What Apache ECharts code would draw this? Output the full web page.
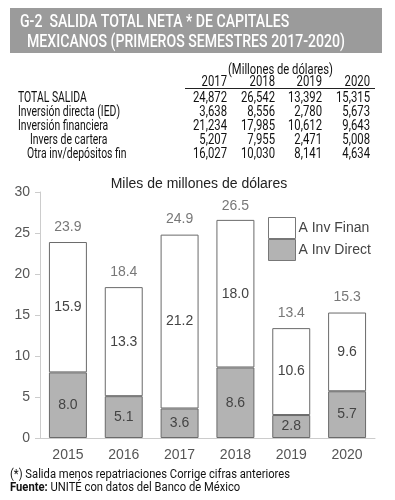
<!DOCTYPE html>
<html><head><meta charset="utf-8">
<script src="https://cdn.jsdelivr.net/npm/echarts@6/dist/echarts.min.js"></script>
<style>html,body{margin:0;padding:0;background:#fff}#c{width:395px;height:500px}</style>
</head><body><div id="c"></div>
<script>
const categories = ['2015','2016','2017','2018','2019','2020'];
const invDirect = [8.0, 5.1, 3.6, 8.6, 2.8, 5.7];
const invFinan = [15.9, 13.3, 21.2, 18.0, 10.6, 9.6];
const totals = [23.9, 18.4, 24.9, 26.5, 13.4, 15.3];
const yTicks = [0, 5, 10, 15, 20, 25, 30];

const tableYears = ['2017','2018','2019','2020'];
const tableRowLabels = ['TOTAL SALIDA','Inversión directa (IED)','Inversión financiera','Invers de cartera','Otra inv/depósitos fin'];
const rowTotal = ['24,872','26,542','13,392','15,315'];
const rowIED = ['3,638','8,556','2,780','5,673'];
const rowFin = ['21,234','17,985','10,612','9,643'];
const rowCartera = ['5,207','7,955','2,471','5,008'];
const rowOtra = ['16,027','10,030','8,141','4,634'];
const tableRows = [rowTotal, rowIED, rowFin, rowCartera, rowOtra];

const FN = 'Roboto, "Liberation Sans", sans-serif';
const cv = document.createElement('canvas').getContext('2d');
function measure(text, font){ cv.font = font; return cv.measureText(text).width; }
function sqText(text, x, y, font, sx, align, fill, extra){
  return {type:'group', x:x, y:y, scaleX:sx, children:[
    {type:'text', x:0, y:0, style:Object.assign({text:text, fill:fill||'#111', font:font, align:align||'left', verticalAlign:'middle'}, extra||{})}
  ]};
}

const titleFont = '500 19px ' + FN;
const t1 = 'G-2  SALIDA TOTAL NETA * DE CAPITALES';
const t2 = 'MEXICANOS (PRIMEROS SEMESTRES 2017-2020)';
const tsx = 318 / measure(t2, titleFont);

const tabFont = '14.5px ' + FN;
const labSx = 102 / measure('Inversión directa (IED)', tabFont);
const numSx = 34 / measure('24,872', tabFont);
const unitSx = 105 / measure('(Millones de dólares)', tabFont);
const colX = [227, 275, 322, 370];
const rowY = [98.5, 112.5, 126.5, 140.5, 154.5];
const labelX = [18, 18, 18, 30, 27];

const g = [];
g.push({type:'rect', shape:{x:10,y:8,width:372,height:45}, style:{fill:'#9b9b9b'}});
g.push(sqText(t1, 20, 22, titleFont, tsx, 'left', '#fff'));
g.push(sqText(t2, 27, 42, titleFont, tsx, 'left', '#fff'));
g.push(sqText('(Millones de dólares)', 280.5, 70, tabFont, unitSx, 'center'));
tableYears.forEach((t,i)=>g.push(sqText(t, colX[i], 82.5, tabFont, numSx, 'right')));
g.push({type:'line', shape:{x1:185,y1:88.5,x2:375,y2:88.5}, style:{stroke:'#222', lineWidth:1.2}});
tableRowLabels.forEach((t,r)=>{
  g.push(sqText(t, labelX[r], rowY[r], tabFont, labSx, 'left'));
  tableRows[r].forEach((v,i)=>g.push(sqText(v, colX[i], rowY[r], tabFont, numSx, 'right')));
});
const footFont = '12.5px ' + FN;
const f1 = '(*) Salida menos repatriaciones Corrige cifras anteriores';
const fsx = 280 / measure(f1, footFont);
g.push(sqText(f1, 10, 475, footFont, fsx, 'left'));
g.push(sqText('{b|Fuente:} UNITÉ con datos del Banco de México', 10, 488, footFont, fsx, 'left', '#111',
  {rich:{b:{fontWeight:'bold', fontSize:12.5, fontFamily:FN, fill:'#111'}}}));

const CF = '"Liberation Sans", Arial, sans-serif';
const chart = echarts.init(document.getElementById('c'));
chart.setOption({
  animation:false,
  title:{text:'Miles de millones de dólares', left:194, top:172, textAlign:'center',
    textStyle:{fontSize:14, fontWeight:'normal', color:'#222', fontFamily:CF}},
  legend:{data:['A Inv Finan','A Inv Direct'], orient:'vertical', left:263, top:212, itemWidth:27, itemHeight:21, itemGap:0,
    icon:'rect',
    textStyle:{fontSize:14, color:'#444', fontFamily:CF, padding:[0,0,0,-2]},
    itemStyle:{borderColor:'#777', borderWidth:1}},
  grid:{left:40, right:20, top:192, bottom:62},
  xAxis:{type:'category', data:categories, axisLine:{lineStyle:{color:'#ccc'}}, axisTick:{lineStyle:{color:'#ccc'}},
    axisLabel:{fontSize:14, color:'#555', margin:10, fontFamily:CF}},
  yAxis:{type:'value', min:0, max:30, interval:5, splitLine:{show:false},
    axisLine:{show:true, lineStyle:{color:'#ccc'}}, axisTick:{show:true, lineStyle:{color:'#ccc'}},
    axisLabel:{fontSize:14, color:'#555', margin:10, fontFamily:CF,
      formatter:v=>yTicks.includes(v)?String(v):''}},
  series:[
    {name:'A Inv Direct', type:'bar', stack:'t', data:invDirect, barWidth:'68%',
      itemStyle:{color:'#b3b3b3', borderColor:'#6a6a6a', borderWidth:1},
      label:{show:true, position:'inside', fontSize:14, color:'#444', fontFamily:CF, formatter:p=>p.value.toFixed(1)}},
    {name:'A Inv Finan', type:'bar', stack:'t', data:invFinan,
      itemStyle:{color:'#fff', borderColor:'#6a6a6a', borderWidth:1},
      label:{show:true, position:'inside', fontSize:14, color:'#444', fontFamily:CF, formatter:p=>p.value.toFixed(1)}},
    {name:'Total', type:'scatter', data:totals, symbolSize:0, silent:true,
      label:{show:true, position:'top', distance:8, fontSize:14, color:'#555', fontFamily:CF, formatter:p=>p.value.toFixed(1)}}
  ],
  graphic:g
});
</script></body></html>
